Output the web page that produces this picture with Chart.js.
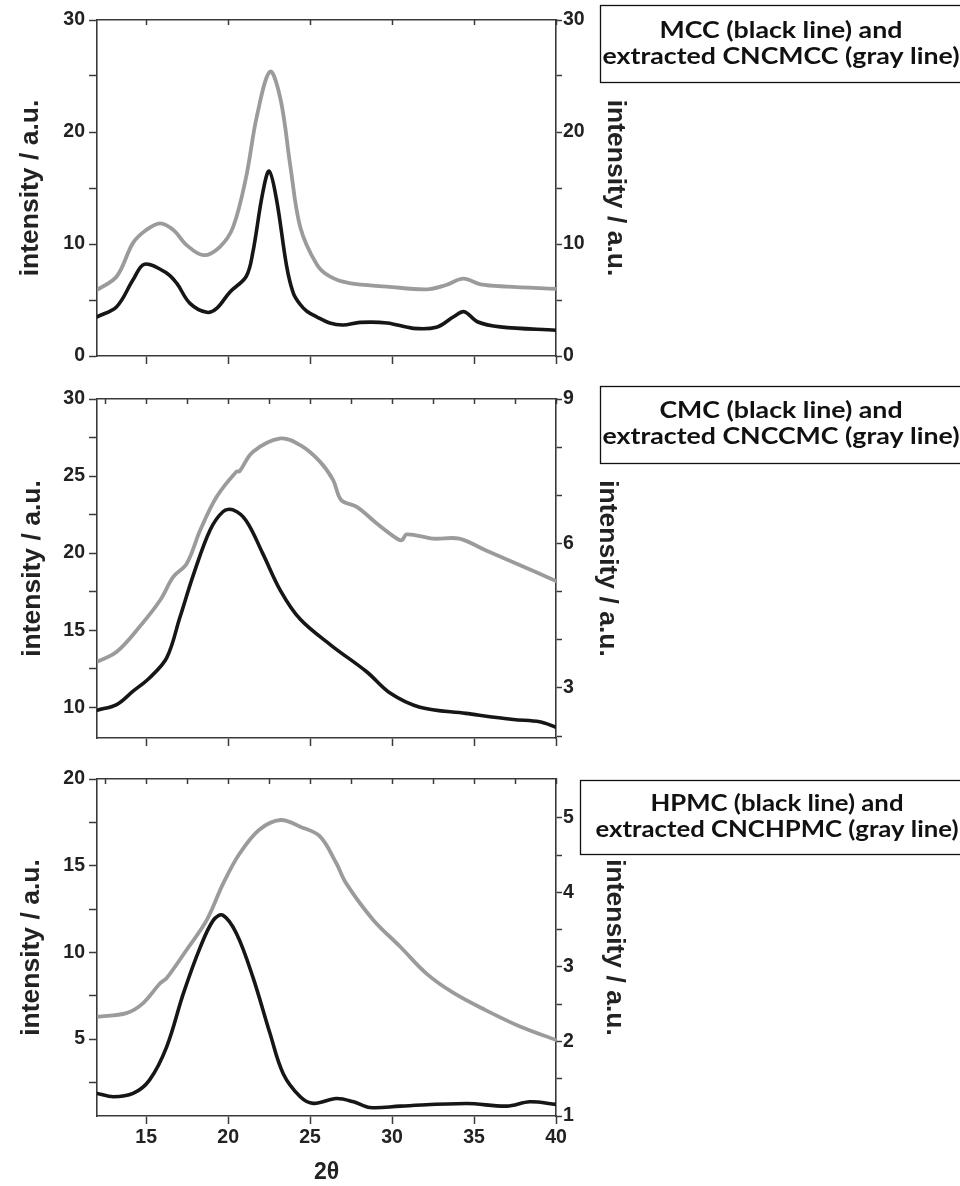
<!DOCTYPE html>
<html><head><meta charset="utf-8">
<script src="https://cdn.jsdelivr.net/npm/chart.js@4.4.1/dist/chart.umd.min.js"></script>
<style>
html,body{margin:0;padding:0;background:#fff;}
#wrap{position:relative;width:960px;height:1186px;overflow:hidden;background:#fff;}
canvas{position:absolute;left:0;}
</style></head><body>
<div id="wrap">
<canvas id="c1" width="960" height="378" style="top:0px;width:960px;height:378px"></canvas>
<canvas id="c2" width="960" height="382" style="top:378px;width:960px;height:382px"></canvas>
<canvas id="c3" width="960" height="426" style="top:760px;width:960px;height:426px"></canvas>
</div>
<script>
// ---------- shared x axis ----------
const xRange = [12, 40];
const xMajorTicks = [15, 20, 25, 30, 35, 40];
const xMinorTicks = [12.5, 17.5, 22.5, 27.5, 32.5, 37.5];
const xTickLabels = [15, 20, 25, 30, 35, 40];
const xTitle = '2θ';
const yTitle = 'intensity / a.u.';

// ---------- panel 1: MCC / CNCMCC ----------
const mccX = [12, 13.2, 14.2, 14.9, 16.25, 16.86, 17.67, 18.7, 19.3, 20.1, 21.1, 21.5, 22.1, 22.5, 22.96, 23.57, 23.98, 24.4, 24.8, 25.4, 26.2, 27.0, 28.05, 29.7, 31.3, 32.7, 33.75, 34.4, 35.2, 36.6, 40];
const mccY = [3.5, 4.4, 6.8, 8.2, 7.4, 6.5, 4.7, 3.9, 4.25, 5.7, 7.1, 9.2, 14.5, 16.5, 13.9, 8.0, 5.6, 4.6, 4.0, 3.5, 2.95, 2.77, 3.0, 2.95, 2.47, 2.56, 3.5, 3.96, 3.06, 2.6, 2.3];
const cncMccX = [12, 13.2, 14.2, 15.0, 15.85, 16.66, 17.47, 18.5, 19.5, 20.3, 21.1, 21.75, 22.56, 23.2, 23.8, 24.4, 25.4, 26.2, 27.4, 29.7, 32.1, 33.3, 34.35, 35.4, 37.0, 40];
const cncMccY = [5.9, 7.1, 10.1, 11.25, 11.85, 11.25, 9.9, 9.0, 9.75, 11.5, 16.0, 21.4, 25.4, 22.9, 16.9, 11.5, 8.2, 7.1, 6.5, 6.2, 5.95, 6.34, 6.9, 6.4, 6.2, 6.0];
const p1LeftRange = [0, 30], p1RightRange = [0, 30];
const p1LeftTicks = [0, 5, 10, 15, 20, 25, 30], p1LeftLabels = [0, 10, 20, 30];
const p1RightTicks = [0, 5, 10, 15, 20, 25, 30], p1RightLabels = [0, 10, 20, 30];
const p1Note = ['MCC (black line) and', 'extracted CNCMCC (gray line)'];

// ---------- panel 2: CMC / CNCCMC ----------
const cmcX = [12, 13.2, 14.2, 15.2, 16.25, 17.05, 17.9, 18.9, 19.7, 20.3, 21.1, 22.1, 23.2, 24.4, 26.3, 28.45, 29.9, 31.7, 34.5, 37.4, 39.0, 40];
const cmcY = [9.8, 10.17, 11.04, 11.9, 13.2, 15.8, 18.65, 21.5, 22.7, 22.8, 22.1, 20.0, 17.55, 15.7, 14.0, 12.3, 10.9, 10.0, 9.6, 9.2, 9.05, 8.7];
const cncCmcX = [12, 13.2, 14.6, 15.85, 16.66, 17.47, 18.3, 19.3, 20.5, 20.7, 21.5, 23.2, 24.4, 25.6, 26.4, 26.9, 27.85, 29.05, 30.3, 30.6, 30.9, 32.5, 34.1, 35.7, 37.6, 40];
const cncCmcY = [3.54, 3.75, 4.27, 4.82, 5.31, 5.58, 6.28, 6.97, 7.49, 7.5, 7.9, 8.18, 8.04, 7.7, 7.32, 6.9, 6.76, 6.42, 6.1, 6.07, 6.19, 6.1, 6.1, 5.86, 5.58, 5.22];
const p2LeftRange = [8, 30], p2RightRange = [1.96, 9];
const p2LeftTicks = [10, 12.5, 15, 17.5, 20, 22.5, 25, 27.5, 30], p2LeftLabels = [10, 15, 20, 25, 30];
const p2RightTicks = [2, 3, 4, 5, 6, 7, 8, 9], p2RightLabels = [3, 6, 9];
const p2Note = ['CMC (black line) and', 'extracted CNCCMC (gray line)'];

// ---------- panel 3: HPMC / CNCHPMC ----------
const hpmcX = [12, 13.0, 14.2, 15.2, 16.25, 17.27, 18.3, 19.1, 19.67, 20.5, 21.5, 22.55, 23.36, 24.4, 25.2, 26.6, 27.65, 28.65, 30.5, 34.55, 37.0, 38.4, 40];
const hpmcY = [1.86, 1.67, 1.86, 2.63, 4.55, 7.63, 10.3, 11.86, 12.15, 11.1, 8.6, 5.33, 3.0, 1.67, 1.29, 1.57, 1.38, 1.05, 1.13, 1.28, 1.13, 1.38, 1.23];
const cncHpmcX = [12, 13.8, 14.8, 15.85, 16.25, 17.47, 18.7, 19.7, 20.7, 21.9, 23.2, 24.4, 25.6, 26.6, 27.2, 28.85, 30.5, 32.1, 33.75, 35.7, 37.8, 40];
const cncHpmcY = [2.33, 2.38, 2.51, 2.78, 2.85, 3.23, 3.63, 4.12, 4.52, 4.84, 4.97, 4.88, 4.75, 4.39, 4.12, 3.63, 3.27, 2.91, 2.65, 2.42, 2.2, 2.02];
const p3LeftRange = [0.56, 20], p3RightRange = [1, 5.52];
const p3LeftTicks = [2.5, 5, 7.5, 10, 12.5, 15, 17.5, 20], p3LeftLabels = [5, 10, 15, 20];
const p3RightTicks = [1, 1.5, 2, 2.5, 3, 3.5, 4, 4.5, 5], p3RightLabels = [1, 2, 3, 4, 5];
const p3Note = ['HPMC (black line) and', 'extracted CNCHPMC (gray line)'];

// ---------- styling ----------
Chart.defaults.font.family = "'Liberation Sans', Arial, sans-serif";
Chart.defaults.animation = false;
const AX = '#3a3a3a';
const TC = '#222222';
const BLACK = '#161616';
const GRAY = '#9b9b9b';

const pts = (xs, ys) => xs.map((x, i) => ({x: x, y: ys[i]}));
const setTicks = vals => s => { s.ticks = vals.map(v => ({value: v})); };
const labelIf = labels => v => labels.includes(v) ? String(v) : '';

const noteBox = {
  id: 'noteBox',
  afterDraw(chart, args, o) {
    if (!o || !o.lines) return;
    const ctx = chart.ctx;
    ctx.save();
    ctx.strokeStyle = '#111';
    ctx.lineWidth = 1.3;
    ctx.strokeRect(o.x + 0.5, o.y + 0.5, o.w, o.h);
    ctx.fillStyle = '#111';
    ctx.font = "bold 22.5px Lato, 'Open Sans', sans-serif";
    ctx.textAlign = 'center';
    ctx.textBaseline = 'alphabetic';
    const w2 = ctx.measureText(o.lines[1]).width;
    const sx = o.targetW / w2;
    o.lines.forEach((t, i) => {
      ctx.save();
      ctx.translate(o.cx, o.base[i]);
      ctx.scale(sx, 1);
      ctx.fillText(t, 0, 0);
      ctx.restore();
    });
    ctx.restore();
  }
};

function buildChart(id, p) {
  const tickFont = {size: 19.5, weight: 'bold'};
  const titleFont = {size: 26.5, weight: 'bold'};
  return new Chart(document.getElementById(id), {
    type: 'line',
    data: {
      datasets: [
        {data: pts(p.grayX, p.grayY), yAxisID: 'y2', xAxisID: 'x', borderColor: GRAY, borderWidth: 3.8,
         pointRadius: 0, tension: 0.35, fill: false, borderJoinStyle: 'round', borderCapStyle: 'round'},
        {data: pts(p.blackX, p.blackY), yAxisID: 'y', xAxisID: 'x', borderColor: BLACK, borderWidth: 3.6,
         pointRadius: 0, tension: 0.35, fill: false, borderJoinStyle: 'round', borderCapStyle: 'round'}
      ]
    },
    options: {
      responsive: false,
      animation: false,
      layout: {padding: {top: p.padTop, left: 0, right: 324, bottom: 0}},
      plugins: {legend: {display: false}, tooltip: {enabled: false}, noteBox: p.note},
      scales: {
        x: {
          type: 'linear', position: 'bottom', min: xRange[0], max: xRange[1],
          afterBuildTicks: setTicks(xMajorTicks),
          afterFit: s => { s.height = p.xHeight; },
          grid: {drawOnChartArea: false, drawTicks: true, tickLength: 8, tickWidth: 1.5, tickColor: AX},
          border: {display: true, color: AX, width: 1.6},
          ticks: {display: p.showX, autoSkip: false, maxRotation: 0, padding: 2, color: TC, font: tickFont,
                  callback: labelIf(xTickLabels)},
          title: {display: p.showX, text: xTitle, color: TC, font: {size: 23, weight: 'bold'}, padding: {top: 0, bottom: 0}}
        },
        xTop: {
          type: 'linear', position: 'top', min: xRange[0], max: xRange[1],
          afterBuildTicks: setTicks(p.topTicks),
          afterFit: s => { s.height = 0; },
          grid: {drawOnChartArea: false, drawTicks: true, tickLength: -5, tickWidth: 1.5, tickColor: AX},
          border: {display: true, color: AX, width: 1.6},
          ticks: {display: false}
        },
        y: {
          type: 'linear', position: 'left', min: p.leftRange[0], max: p.leftRange[1],
          afterBuildTicks: setTicks(p.leftTicks),
          afterFit: s => { s.width = 97; },
          grid: {drawOnChartArea: false, drawTicks: true, tickLength: 8, tickWidth: 1.5, tickColor: AX},
          border: {display: true, color: AX, width: 1.6},
          ticks: {autoSkip: false, padding: 4, color: TC, font: tickFont, callback: labelIf(p.leftLabels)},
          title: {display: true, text: yTitle, color: TC, font: titleFont, padding: {top: p.leftTitlePad, bottom: 0}}
        },
        y2: {
          type: 'linear', position: 'right', min: p.rightRange[0], max: p.rightRange[1],
          afterBuildTicks: setTicks(p.rightTicks),
          afterFit: s => { s.width = 80; },
          grid: {drawOnChartArea: false, drawTicks: true, tickLength: 6, tickWidth: 1.5, tickColor: AX},
          border: {display: true, color: AX, width: 1.6},
          ticks: {autoSkip: false, padding: 1, color: TC, font: tickFont, callback: labelIf(p.rightLabels)},
          title: {display: true, text: yTitle, color: TC, font: titleFont, padding: {top: p.rightTitlePad, bottom: 0}}
        }
      }
    },
    plugins: [noteBox]
  });
}

buildChart('c1', {
  blackX: mccX, blackY: mccY, grayX: cncMccX, grayY: cncMccY,
  leftRange: p1LeftRange, rightRange: p1RightRange,
  leftTicks: p1LeftTicks, leftLabels: p1LeftLabels, rightTicks: p1RightTicks, rightLabels: p1RightLabels,
  topTicks: xMajorTicks, padTop: 20, xHeight: 22, showX: false,
  leftTitlePad: 14.4, rightTitlePad: 4.4,
  note: {lines: p1Note, x: 600, y: 5, w: 380, h: 77, cx: 781, base: [38.3, 64], targetW: 357}
});
buildChart('c2', {
  blackX: cmcX, blackY: cmcY, grayX: cncCmcX, grayY: cncCmcY,
  leftRange: p2LeftRange, rightRange: p2RightRange,
  leftTicks: p2LeftTicks, leftLabels: p2LeftLabels, rightTicks: p2RightTicks, rightLabels: p2RightLabels,
  topTicks: xMajorTicks.concat(xMinorTicks), padTop: 21, xHeight: 22, showX: false,
  leftTitlePad: 16.4, rightTitlePad: 12.4,
  note: {lines: p2Note, x: 600, y: 8, w: 380, h: 77, cx: 781, base: [40, 65.7], targetW: 357}
});
buildChart('c3', {
  blackX: hpmcX, blackY: hpmcY, grayX: cncHpmcX, grayY: cncHpmcY,
  leftRange: p3LeftRange, rightRange: p3RightRange,
  leftTicks: p3LeftTicks, leftLabels: p3LeftLabels, rightTicks: p3RightTicks, rightLabels: p3RightLabels,
  topTicks: xMajorTicks.concat(xMinorTicks), padTop: 19, xHeight: 70, showX: true,
  leftTitlePad: 15.4, rightTitlePad: 5.4,
  note: {lines: p3Note, x: 580, y: 20, w: 400, h: 74, cx: 777, base: [51.3, 77], targetW: 363}
});
</script>
</body></html>
